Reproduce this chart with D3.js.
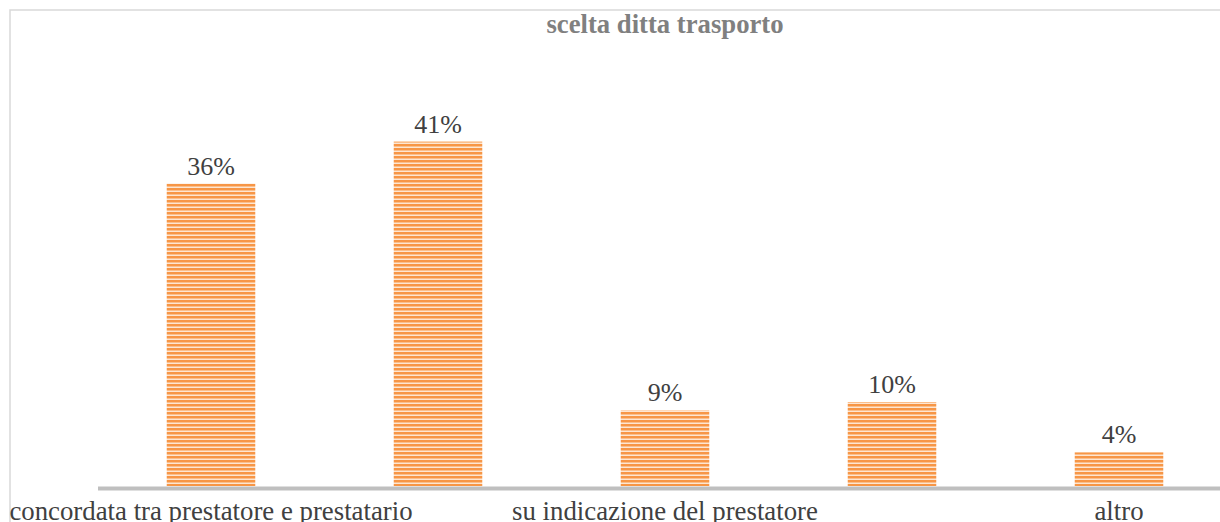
<!DOCTYPE html>
<meta charset="utf-8">
<style>
body{
  margin: 0;
  background: #fff;
  overflow: hidden;
}
svg{
  display: block;
  background-color: #fff;
}
text{
  font-family: "Liberation Serif", "Times New Roman", serif;
}
</style>

<svg width="1220" height="522"></svg>
<script src="https://d3js.org/d3.v7.min.js"></script>
<script>

// data (labels 2 and 4 are skipped by the axis)
var categories = ["concordata tra prestatore e prestatario", "cat2", "su indicazione del prestatore", "cat4", "altro"];
var values = [36, 41, 9, 10, 4];
var shownTicks = ["concordata tra prestatore e prestatario", "su indicazione del prestatore", "altro"];
var title = "scelta ditta trasporto";

var svg = d3.select("svg"),
    width = +svg.attr("width"),
    height = +svg.attr("height");

var x0 = 97.5, x1 = 1232.5,   // plot runs past the right edge, like the cropped original
    baseY = 486;

var x = d3.scaleBand()
    .domain(categories)
    .range([x0, x1])
    .paddingInner(0.61)
    .paddingOuter(0.305);

var y = d3.scaleLinear()
    .domain([0, 45])
    .range([baseY, baseY - 45 * 8.4]);

// striped fill
var defs = svg.append("defs");
var pat = defs.append("pattern")
    .attr("id", "stripes")
    .attr("patternUnits", "userSpaceOnUse")
    .attr("width", 8)
    .attr("height", 4)
    .attr("y", 0);
pat.append("rect").attr("width", 8).attr("height", 4).attr("fill", "#fde6d2");
pat.append("rect").attr("width", 8).attr("height", 2).attr("fill", "#f79646");
pat.append("rect").attr("y", 2).attr("width", 8).attr("height", 1).attr("fill", "#fbbf8c");

// chart frame
svg.append("rect")
    .attr("x", 10)
    .attr("y", 10)
    .attr("width", 1300)
    .attr("height", 700)
    .attr("fill", "none")
    .attr("stroke", "#d9d9d9")
    .attr("stroke-width", 1.5);

svg.append("text")
    .attr("x", (x0 + x1) / 2)
    .attr("y", 33)
    .attr("text-anchor", "middle")
    .attr("font-size", 26.7)
    .attr("font-weight", "bold")
    .attr("fill", "#808080")
    .text(title);

var data = categories.map(function(c, i) { return {cat: c, v: values[i]}; });

svg.append("g")
  .selectAll("rect")
  .data(data)
  .enter().append("rect")
    .attr("x", function(d) { return x(d.cat); })
    .attr("y", function(d) { return y(d.v); })
    .attr("width", x.bandwidth())
    .attr("height", function(d) { return baseY - y(d.v); })
    .attr("fill", "url(#stripes)");

svg.append("g")
  .selectAll("text")
  .data(data)
  .enter().append("text")
    .attr("x", function(d) { return x(d.cat) + x.bandwidth() / 2; })
    .attr("y", function(d) { return y(d.v) - 9; })
    .attr("text-anchor", "middle")
    .attr("font-size", 26)
    .attr("fill", "#404040")
    .text(function(d) { return d.v + "%"; });

var axis = svg.append("g")
    .attr("transform", "translate(0," + (baseY + 2) + ")")
    .call(d3.axisBottom(x).tickValues(shownTicks).tickSize(0).tickSizeOuter(0));

axis.select(".domain")
    .attr("stroke", "#bfbfbf")
    .attr("stroke-width", 4);

axis.selectAll("text")
    .attr("y", 32)
    .attr("dy", null)
    .attr("font-size", 26.8)
    .attr("font-family", "Liberation Serif, Times New Roman, serif")
    .attr("fill", "#404040");

</script>
